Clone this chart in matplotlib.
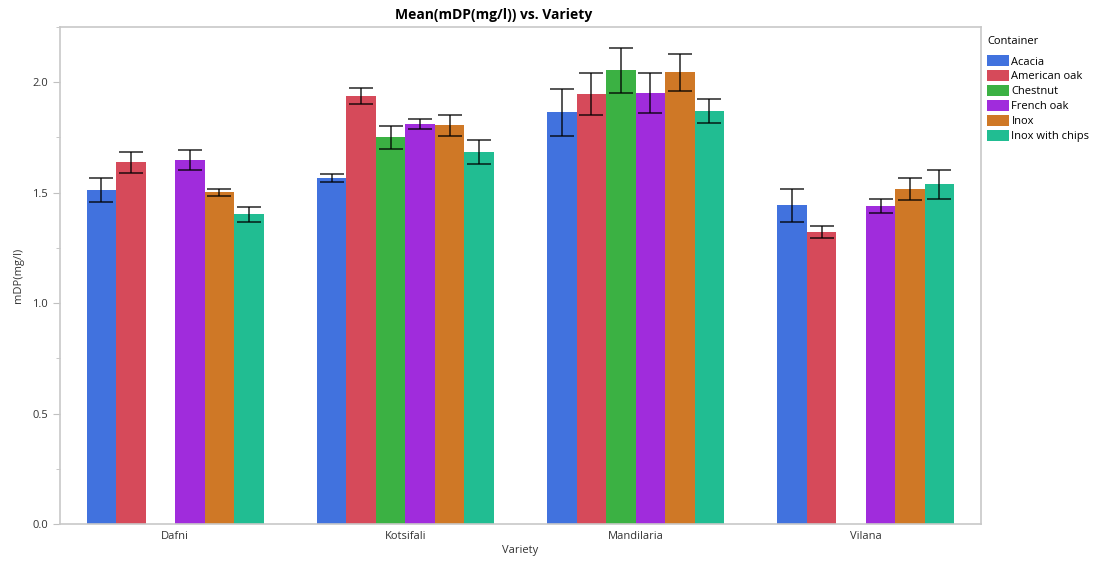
import matplotlib.pyplot as plt
import numpy as np

varieties = ["Dafni", "Kotsifali", "Mandilaria", "Vilana"]
containers = ["Acacia", "American oak", "Chestnut", "French oak", "Inox", "Inox with chips"]
colors = ["#4172de", "#d64a5a", "#3bb143", "#a02cdc", "#cf7826", "#21bd92"]

# mean mDP per container, one value per variety (None = no sample)
acacia = [1.511, 1.566, 1.864, 1.443]
american_oak = [1.638, 1.937, 1.946, 1.321]
chestnut = [None, 1.751, 2.054, None]
french_oak = [1.647, 1.810, 1.950, 1.439]
inox = [1.502, 1.805, 2.045, 1.516]
inox_chips = [1.403, 1.683, 1.869, 1.538]

# standard errors
acacia_err = [0.055, 0.019, 0.106, 0.074]
american_oak_err = [0.047, 0.037, 0.095, 0.028]
chestnut_err = [None, 0.053, 0.103, None]
french_oak_err = [0.045, 0.023, 0.090, 0.031]
inox_err = [0.016, 0.047, 0.084, 0.050]
inox_chips_err = [0.034, 0.055, 0.055, 0.066]

means = [acacia, american_oak, chestnut, french_oak, inox, inox_chips]
errs = [acacia_err, american_oak_err, chestnut_err, french_oak_err, inox_err, inox_chips_err]

plt.rcParams["font.family"] = ["Open Sans", "DejaVu Sans"]

fig = plt.figure(figsize=(10.97, 5.63), dpi=100)
ax = fig.add_axes([0.0547, 0.0693, 0.8395, 0.8827])

x = np.arange(len(varieties))
width = 0.128
for i, (name, col) in enumerate(zip(containers, colors)):
    offs = (i - 2.5) * width
    xs, ys, es = [], [], []
    for j in range(len(varieties)):
        if means[i][j] is None:
            continue
        xs.append(x[j] + offs)
        ys.append(means[i][j])
        es.append(errs[i][j])
    ax.bar(xs, ys, width=width, color=col, label=name, linewidth=0)
    ax.errorbar(xs, ys, yerr=es, fmt="none", ecolor="black", elinewidth=1.1,
                capsize=8.5, capthick=1.1, alpha=0.85)

ax.set_xlim(-0.5, 3.5)
ax.set_ylim(0, 2.25)
ax.set_xticks(x)
ax.set_xticklabels(varieties)
ax.set_yticks([0.0, 0.5, 1.0, 1.5, 2.0])
ax.set_yticks([0.25, 0.75, 1.25, 1.75, 2.25], minor=True)
ax.yaxis.set_major_formatter(plt.FormatStrFormatter("%.1f"))
ax.tick_params(axis="both", labelsize=8, colors="#333333", length=5, color="#c0c0c0")
ax.tick_params(axis="y", which="minor", length=3, color="#c0c0c0")
ax.tick_params(axis="x", length=0, pad=5)
for sp in ax.spines.values():
    sp.set_color("#c8c8c8")
    sp.set_linewidth(1.2)

ax.set_xlabel("Variety", fontsize=8, color="#333333", labelpad=2)
ax.set_ylabel("mDP(mg/l)", fontsize=8, color="#333333", labelpad=6)
fig.text(494 / 1097, 1 - 15 / 563, "Mean(mDP(mg/l)) vs. Variety", fontsize=10,
         fontweight="bold", ha="center", va="center")

leg = ax.legend(title="Container", loc="upper left", bbox_to_anchor=(1.0, 0.994),
                frameon=False, fontsize=8, title_fontsize=8, handlelength=2.0,
                handleheight=1.1, handletextpad=0.2, labelspacing=0.25,
                borderaxespad=0.25, borderpad=0.3)
leg._legend_box.align = "left"
leg._legend_box.sep = 6

fig.savefig("out.png", dpi=100)
